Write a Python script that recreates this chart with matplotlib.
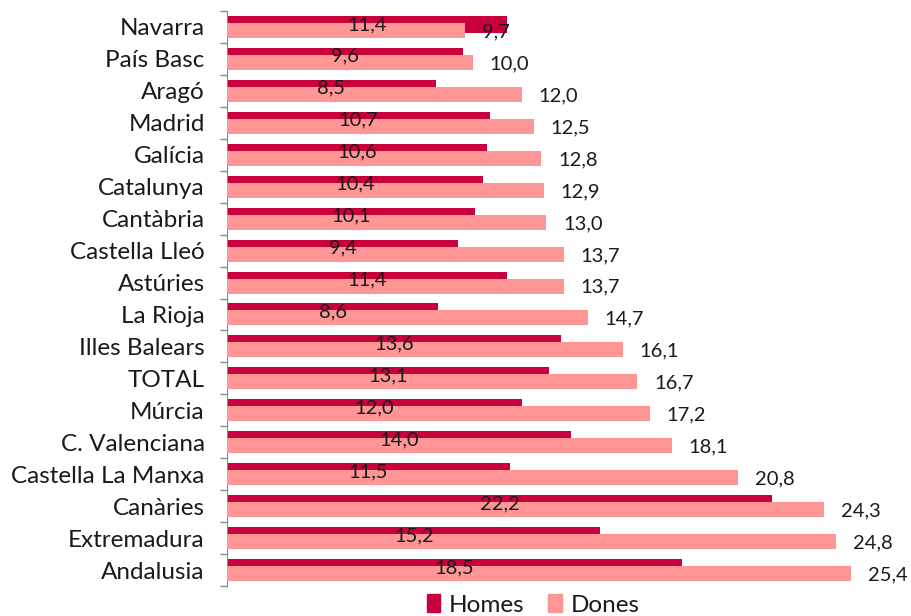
import numpy as np
import matplotlib.pyplot as plt
from matplotlib.patches import Patch

categories = ['Navarra', 'País Basc', 'Aragó', 'Madrid', 'Galícia', 'Catalunya',
              'Cantàbria', 'Castella Lleó', 'Astúries', 'La Rioja', 'Illes Balears',
              'TOTAL', 'Múrcia', 'C. Valenciana', 'Castella La Manxa', 'Canàries',
              'Extremadura', 'Andalusia']
homes = [11.4, 9.6, 8.5, 10.7, 10.6, 10.4, 10.1, 9.4, 11.4, 8.6, 13.6, 13.1,
         12.0, 14.0, 11.5, 22.2, 15.2, 18.5]
dones = [9.7, 10.0, 12.0, 12.5, 12.8, 12.9, 13.0, 13.7, 13.7, 14.7, 16.1, 16.7,
         17.2, 18.1, 20.8, 24.3, 24.8, 25.4]

c_homes = '#C8003C'
c_dones = '#FF9696'
txt = '#1a1a1a'
plt.rcParams['font.family'] = ['Lato', 'DejaVu Sans']

fig = plt.figure(figsize=(9.11, 6.16), dpi=100)
ax = fig.add_axes([227 / 911, 1 - 586 / 616, 673 / 911, 575 / 616])

y = np.arange(len(categories))
ax.barh(y - 0.08, homes, height=0.53, color=c_homes, zorder=2)
ax.barh(y + 0.11, dones, height=0.47, color=c_dones, zorder=3)

def fmt(v):
    return f'{v:.1f}'.replace('.', ',')

for i, (h, d) in enumerate(zip(homes, dones)):
    ax.text(h / 2, i - 0.08, fmt(h), ha='center', va='center',
            fontsize=14.5, color=txt, zorder=4)
    ax.annotate(fmt(d), (d, i + 0.15), xytext=(12, 0), textcoords='offset points',
                ha='left', va='center', fontsize=14.5, color=txt, zorder=4)

ax.set_xlim(0, 673 / 24.57)
ax.set_ylim(len(categories) - 0.5, -0.5)
ax.set_xticks([])
ax.set_yticks(y)
ax.set_yticklabels(categories, fontsize=17.5, color=txt)
ax.set_yticks(np.arange(-0.5, len(categories), 1), minor=True)
ax.tick_params(axis='y', which='major', length=0, pad=16)
ax.tick_params(axis='y', which='minor', length=5, color='#888888', width=1)
for s in ['top', 'right', 'bottom']:
    ax.spines[s].set_visible(False)
ax.spines['left'].set_color('#888888')

handles = [Patch(color=c_homes, label='Homes'), Patch(color=c_dones, label='Dones')]
fig.legend(handles=handles, loc='center', bbox_to_anchor=(0.585, 1 - 605 / 616),
           ncol=2, frameon=False, fontsize=17.5, handlelength=0.55, handleheight=0.75,
           handletextpad=0.35, columnspacing=1.0, labelcolor=txt, borderpad=0)

fig.savefig('out.png', dpi=100)
